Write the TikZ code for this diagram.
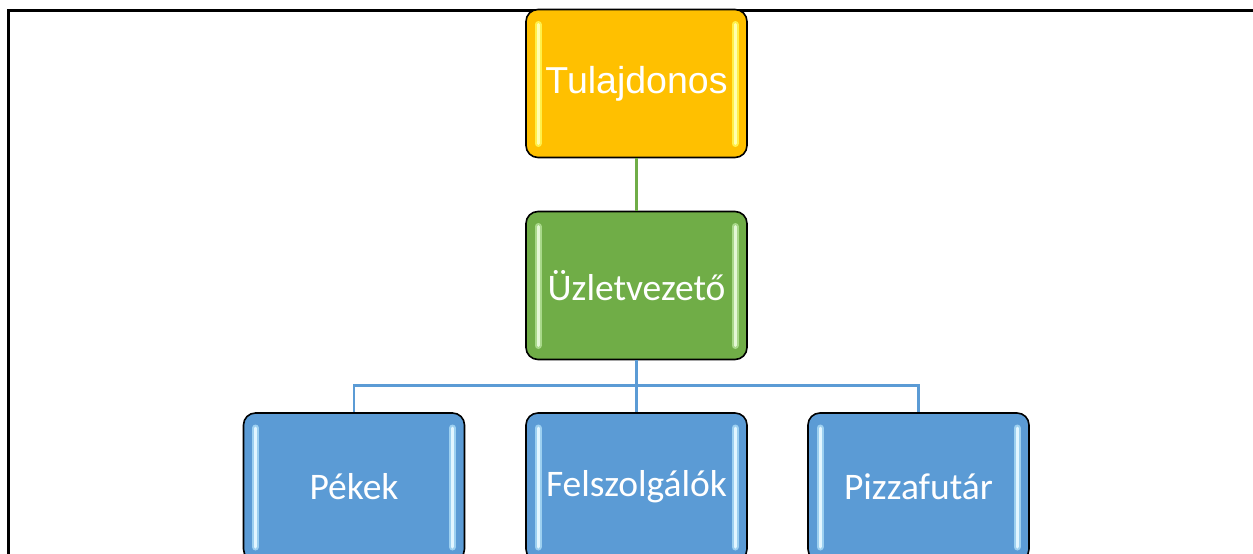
\documentclass[tikz,border=0pt]{standalone}
\usepackage{fontspec}
\setmainfont{Carlito}
\newfontfamily\arialf{Liberation Sans}
\definecolor{goldfill}{HTML}{FFC000}
\definecolor{greenfill}{HTML}{70AD47}
\definecolor{bluefill}{HTML}{5B9BD5}
\definecolor{goldglow}{HTML}{FFF04A}
\definecolor{goldcore}{HTML}{FFFFB0}
\definecolor{greenglow}{HTML}{A9D88A}
\definecolor{greencore}{HTML}{E4F7D6}
\definecolor{blueglow}{HTML}{9DD0F0}
\definecolor{bluecore}{HTML}{E2F6FF}
\tikzset{
  orgbox/.style={draw=black, line width=1.6pt, rounded corners=12pt,
    minimum width=221pt, minimum height=148pt, inner sep=0pt,
    text=white, font=\fontsize{37.5}{42}\selectfont},
  bars/.style 2 args={path picture={
    \draw[#1, line width=7pt, line cap=round]
      ([xshift=12pt,yshift=-15pt]path picture bounding box.north west) --
      ([xshift=12pt,yshift=14pt]path picture bounding box.south west);
    \draw[#1, line width=7pt, line cap=round]
      ([xshift=-12pt,yshift=-15pt]path picture bounding box.north east) --
      ([xshift=-12pt,yshift=14pt]path picture bounding box.south east);
    \draw[#2, line width=3pt, line cap=round]
      ([xshift=12pt,yshift=-15pt]path picture bounding box.north west) --
      ([xshift=12pt,yshift=14pt]path picture bounding box.south west);
    \draw[#2, line width=3pt, line cap=round]
      ([xshift=-12pt,yshift=-15pt]path picture bounding box.north east) --
      ([xshift=-12pt,yshift=14pt]path picture bounding box.south east);
  }},
  goldbox/.style={orgbox, fill=goldfill, bars={goldglow}{goldcore}},
  greenbox/.style={orgbox, fill=greenfill, bars={greenglow}{greencore}},
  bluebox/.style={orgbox, fill=bluefill, bars={blueglow}{bluecore}},
  greenline/.style={draw=greenfill, line width=2.5pt},
  blueline/.style={draw=bluefill, line width=2.5pt},
  frameline/.style={draw=black, line width=3pt}
}
\begin{document}
\begin{tikzpicture}[x=1pt, y=-1pt]
\useasboundingbox (0,0) rectangle (1253,554);
\begin{scope}
\clip (0,0) rectangle (1253,554);
\coordinate (fa) at (8,554);
\coordinate (fb) at (8,10);
\coordinate (fc) at (1253,10);
\draw[frameline] (fa) -- (fb) -- (fc);
\node[goldbox] (own) at (636.5,83.5) {\arialf Tulajdonos};
\node[greenbox] (mgr) at (636.5,285.5) {Üzletvezető};
\node[bluebox] (pek) at (354,487) {Pékek};
\node[bluebox] (fel) at (636.5,487) {Felszolgálók};
\node[bluebox] (piz) at (918.5,487) {Pizzafutár};
\draw[greenline] (own.south) -- (mgr.north);
\draw[blueline] (mgr.south) -- (fel.north);
\draw[blueline] (mgr.south) -- ++(0,25) -| (pek.north);
\draw[blueline] (mgr.south) -- ++(0,25) -| (piz.north);
\end{scope}
\end{tikzpicture}
\end{document}
